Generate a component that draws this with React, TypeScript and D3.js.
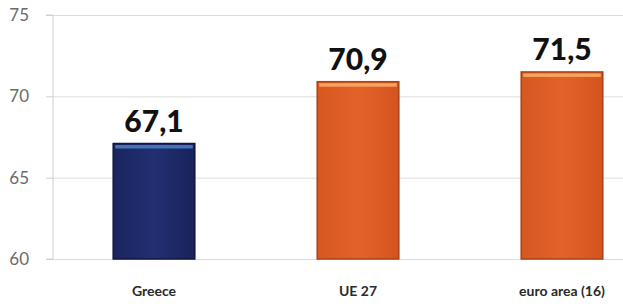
import * as d3 from "d3";
import {useEffect, useRef} from "react";

const categories = ["Greece", "UE 27", "euro area (16)"];
const values = [67.1, 70.9, 71.5];
const valueLabels = ["67,1", "70,9", "71,5"];
const yTicks = [60, 65, 70, 75];

const W = 623;
const H = 304;

const App = () => {
    const svgRef = useRef<SVGSVGElement>(null);

    useEffect(() => {
        if (!svgRef.current) return;
        const svg = d3.select(svgRef.current);
        svg.selectAll("*").remove();

        const left = 53, top = 15, bottom = 259;

        const x = d3.scaleBand<string>()
            .domain(categories)
            .range([52, 664])
            .paddingInner(0.6)
            .paddingOuter(0.3);

        const y = d3.scaleLinear().domain([60, 75]).range([bottom, top]);

        const defs = svg.append("defs");
        const grads = [
            {id: "gBlue", c0: "#1a245f", c1: "#222f72", c2: "#19225b"},
            {id: "gOrange", c0: "#d6581f", c1: "#e2622a", c2: "#d3551d"},
        ];
        grads.forEach(g => {
            const lg = defs.append("linearGradient").attr("id", g.id)
                .attr("x1", "0").attr("x2", "1").attr("y1", "0").attr("y2", "0");
            lg.append("stop").attr("offset", "0%").attr("stop-color", g.c0);
            lg.append("stop").attr("offset", "50%").attr("stop-color", g.c1);
            lg.append("stop").attr("offset", "100%").attr("stop-color", g.c2);
        });

        // grid
        svg.append("g")
            .attr("transform", `translate(${left},0)`)
            .call(d3.axisLeft(y).tickValues(yTicks).tickSize(-(W - left)).tickFormat(() => ""))
            .call(g => g.select(".domain").remove())
            .call(g => g.selectAll(".tick line").attr("stroke", "#dcdcdc").attr("stroke-width", 1));

        // y axis
        svg.append("g")
            .attr("transform", `translate(${left},0)`)
            .call(d3.axisLeft(y).tickValues(yTicks).tickSize(7).tickPadding(22))
            .call(g => g.select(".domain").attr("stroke", "#d0d0d0").attr("d", `M-7,${top}H0V${bottom}H-7`))
            .call(g => g.selectAll(".tick line").attr("stroke", "#d0d0d0"))
            .call(g => g.selectAll(".tick text")
                .attr("fill", "#6a6a6a")
                .attr("font-family", "Lato, 'Open Sans', sans-serif")
                .attr("font-size", 17)
                .attr("x", -24)
                .attr("text-anchor", "end"));

        const colors = ["gBlue", "gOrange", "gOrange"];
        const strokes = ["#0f1640", "#a8421a", "#a8421a"];
        const highlights = ["#4573b8", "#f6a45c", "#f6a45c"];

        const bars = svg.append("g");
        bars.selectAll("rect.bar")
            .data(values)
            .enter()
            .append("rect")
            .attr("class", "bar")
            .attr("x", (d, i) => x(categories[i])!)
            .attr("y", d => y(d))
            .attr("width", x.bandwidth())
            .attr("height", d => bottom - y(d))
            .attr("fill", (d, i) => `url(#${colors[i]})`)
            .attr("stroke", (d, i) => strokes[i])
            .attr("stroke-width", 1.5);

        bars.selectAll("rect.hl")
            .data(values)
            .enter()
            .append("rect")
            .attr("class", "hl")
            .attr("x", (d, i) => x(categories[i])! + 2)
            .attr("y", d => y(d) + 1.5)
            .attr("width", x.bandwidth() - 4)
            .attr("height", 3.5)
            .attr("fill", (d, i) => highlights[i]);

        // value labels
        svg.append("g").selectAll("text")
            .data(values)
            .enter()
            .append("text")
            .attr("x", (d, i) => x(categories[i])! + x.bandwidth() / 2)
            .attr("y", d => y(d) - 12)
            .attr("text-anchor", "middle")
            .attr("font-family", "Lato, 'Open Sans', sans-serif")
            .attr("font-weight", 900)
            .attr("font-size", 30)
            .attr("fill", "#111")
            .text((d, i) => valueLabels[i]);

        // category labels
        svg.append("g").selectAll("text")
            .data(categories)
            .enter()
            .append("text")
            .attr("x", d => x(d)! + x.bandwidth() / 2)
            .attr("y", 296)
            .attr("text-anchor", "middle")
            .attr("font-family", "Lato, 'Open Sans', sans-serif")
            .attr("font-weight", "bold")
            .attr("font-size", 14)
            .attr("fill", "#2a2a2a")
            .text(d => d);
    }, []);

    return <svg ref={svgRef} width={W} height={H}
                style={{position: "absolute", left: 0, top: 0, background: "#fff"}}/>;
};

export default App;
